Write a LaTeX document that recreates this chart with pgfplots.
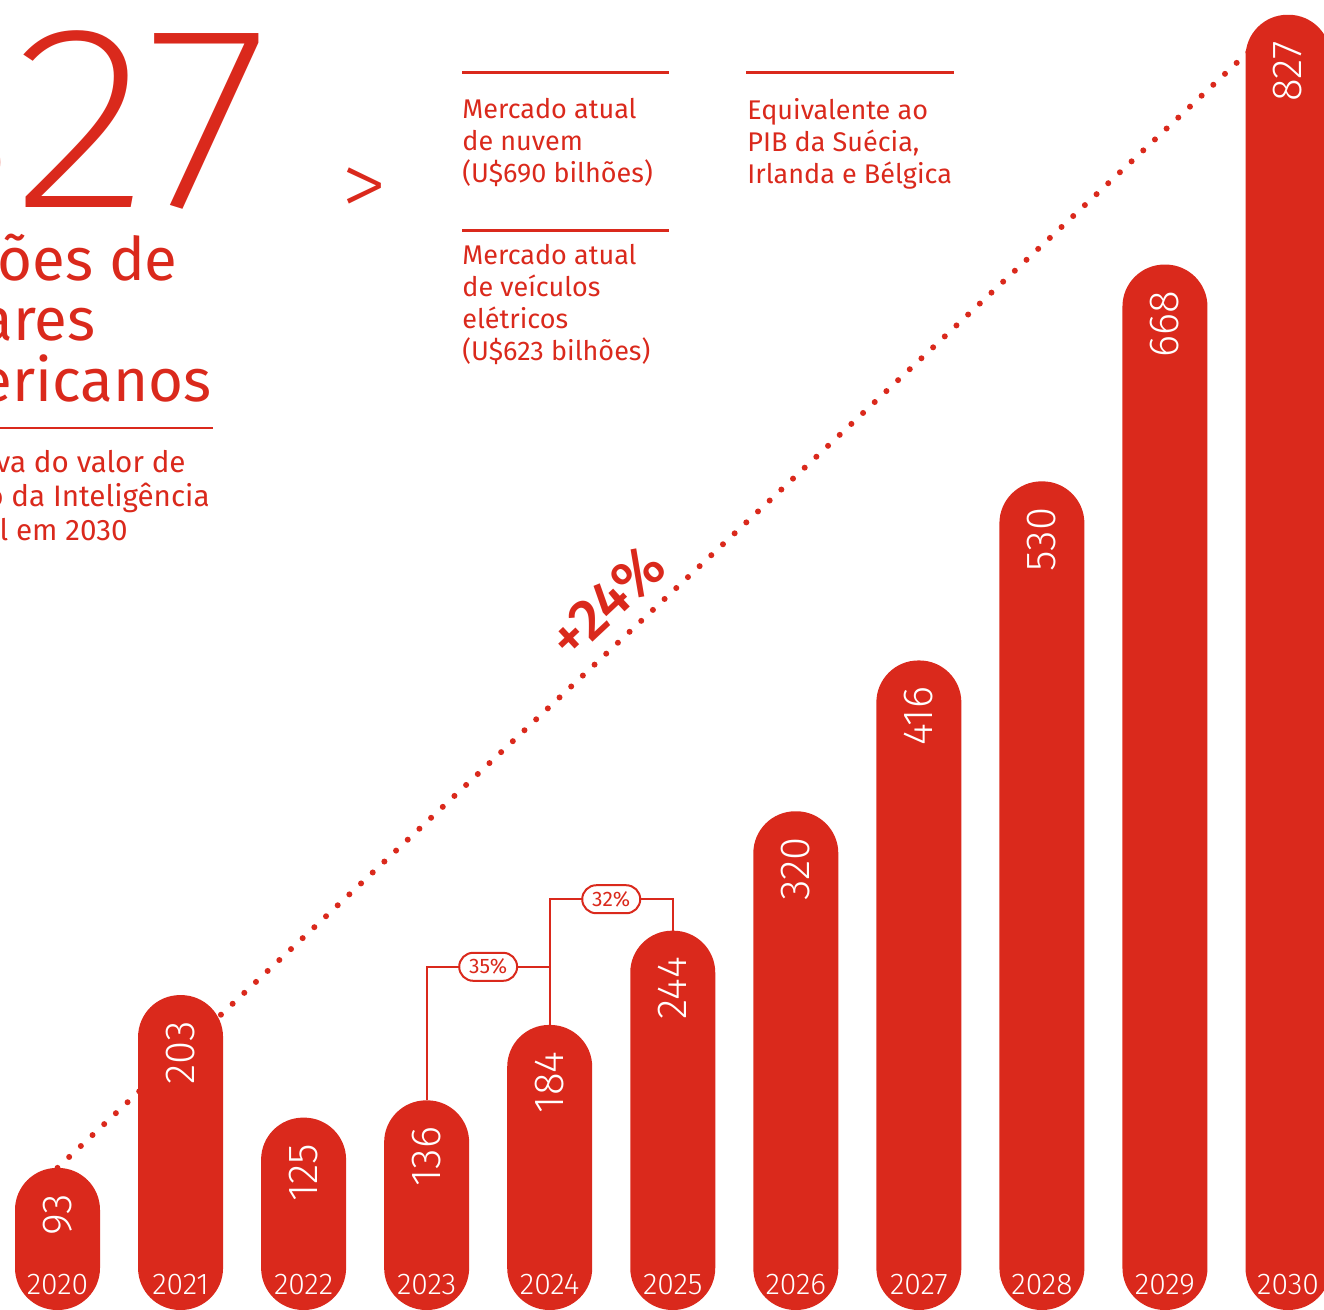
\documentclass[border=0pt]{standalone}
\usepackage{pgfplots}
\pgfplotsset{compat=1.18}
\usepackage{fontspec}
\setmainfont{Fira Sans}
\IfFontExistsTF{Fira Sans Light}{\newfontfamily\firalight{Fira Sans Light}}{\newfontfamily\firalight{Fira Sans}}
\IfFontExistsTF{Fira Sans ExtraLight}{\newfontfamily\firathin{Fira Sans ExtraLight}}{\let\firathin\firalight}
\IfFontExistsTF{Fira Sans Medium}{\newfontfamily\firamed{Fira Sans Medium}}{\newfontfamily\firamed{Fira Sans}}
\definecolor{sred}{RGB}{218,41,28}
\begin{document}
\begin{tikzpicture}
\useasboundingbox (0,0) rectangle (662pt,655pt);
\clip (0,0) rectangle (662pt,655pt);
\begin{axis}[at={(0,0)},anchor=south west,scale only axis,
  width=662pt,height=655pt,
  xmin=-0.4673,xmax=10.2925,ymin=2.55,ymax=836.4,
  axis lines=none,clip=false,
  /pgf/number format/assume math mode=true]
% trend line (2020 -> 2030)
\addplot[sred,line width=3pt,dash pattern=on 0pt off 8pt,line cap=round]
  coordinates {(0,93) (10,827)};
% bars
\addplot[ybar,bar width=42.5pt,bar shift=0pt,fill=sred,draw=none,
  rounded corners=21pt,
  nodes near coords,
  every node near coord/.append style={font=\firalight\fontsize{21}{21}\selectfont,
     text=white,rotate=90,anchor=east,inner xsep=13pt,inner ysep=0pt}]
  coordinates {(0,93) (1,203) (2,125) (3,136) (4,184) (5,244)
               (6,320) (7,416) (8,530) (9,668) (10,827)};
% years
\pgfplotsinvokeforeach{0,...,10}{
  \node[text=white,anchor=base,inner sep=0pt,font=\firalight\fontsize{15}{15}\selectfont]
    at (axis cs:#1,12.7) {\the\numexpr2020+#1\relax};
}
% growth brackets
\draw[sred,line width=1pt] (axis cs:3,136) |- (axis cs:4,221);
\draw[sred,line width=1pt] (axis cs:4,184) |- (axis cs:5,264) -- (axis cs:5,244);
\node[draw=sred,line width=1pt,fill=white,text=sred,rounded corners=7pt,
  inner xsep=5pt,inner ysep=1.5pt,minimum height=14pt,
  font=\fontsize{10.5}{10.5}\selectfont] at (axis cs:3.5,221) {35\%};
\node[draw=sred,line width=1pt,fill=white,text=sred,rounded corners=7pt,
  inner xsep=5pt,inner ysep=1.5pt,minimum height=14pt,
  font=\fontsize{10.5}{10.5}\selectfont] at (axis cs:4.5,264) {32\%};
% CAGR label
\node[text=sred,rotate=43.1,font=\firamed\fontsize{29}{29}\selectfont]
  at (axis cs:4.465,453) {+24\%};
\end{axis}
% texts, coordinates in pixels of the reference
\begin{scope}[x=0.5pt,y=-0.5pt,shift={(0pt,655pt)},text=sred]
\node[anchor=base east,inner sep=0pt,font=\firathin\fontsize{131}{131}\selectfont]
  at (270,208) {\scalebox{1.09}[1]{827}};
\node[anchor=center,inner sep=0pt,font=\firalight\fontsize{46}{46}\selectfont] at (364,192) {>};
\begin{scope}[every node/.style={anchor=base east,inner sep=0pt,font=\fontsize{30}{30}\selectfont}]
\node at (178,281) {bilhões de};
\node at (96,341) {dólares};
\node at (212,402) {americanos};
\end{scope}
\draw[sred,line width=1pt] (0,428) -- (213,428);
\begin{scope}[every node/.style={anchor=base east,inner sep=0pt,font=\fontsize{14.8}{14.8}\selectfont}]
\node at (186,473) {Estimativa do valor de};
\node at (210,507) {mercado da Inteligência};
\node at (128,541) {Artificial em 2030};
\end{scope}
\draw[sred,line width=1.5pt] (462,73) -- (669,73);
\draw[sred,line width=1.5pt] (746,73) -- (954,73);
\draw[sred,line width=1.5pt] (462,231) -- (669,231);
\begin{scope}[every node/.style={anchor=base west,inner sep=0pt,font=\fontsize{13.5}{13.5}\selectfont}]
\node at (462,119) {Mercado atual};
\node at (462,151) {de nuvem};
\node at (462,183) {(U\$690 bilhões)};
\node at (747,120) {Equivalente ao};
\node at (747,152) {PIB da Suécia,};
\node at (747,184) {Irlanda e Bélgica};
\node at (462,265) {Mercado atual};
\node at (462,297) {de veículos};
\node at (462,329) {elétricos};
\node at (462,361) {(U\$623 bilhões)};
\end{scope}
\end{scope}
\end{tikzpicture}
\end{document}
